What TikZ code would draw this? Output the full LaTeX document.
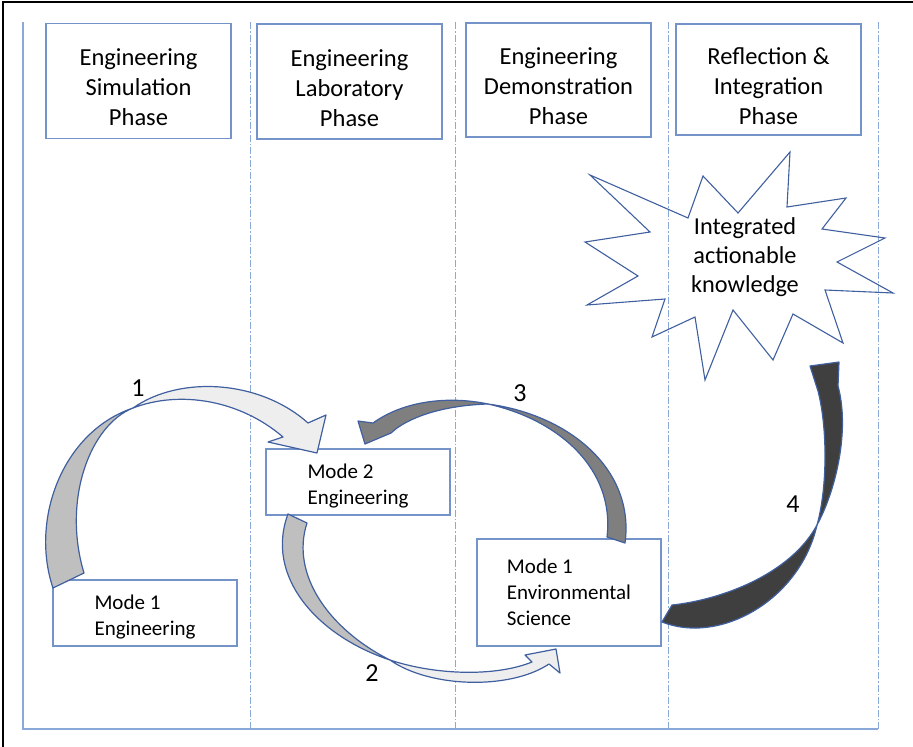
\documentclass[tikz,border=0pt]{standalone}
\usepackage{fontspec}
\setmainfont{Carlito}
\usetikzlibrary{positioning}
\definecolor{boxblue}{HTML}{7393C9}
\definecolor{laneblue}{HTML}{8AA8D8}
\definecolor{curlblue}{HTML}{3F5F9F}
\definecolor{backgrey}{HTML}{BFBFBF}
\definecolor{frontgrey}{HTML}{EEEEEE}
\definecolor{midgrey}{HTML}{7F7F7F}
\definecolor{darkgrey}{HTML}{3F3F3F}
\newcommand{\phasegap}{\rule{0pt}{30pt}}
\newcommand{\modegap}{\rule{0pt}{22pt}}
\tikzset{
  phasebox/.style={draw=boxblue,line width=1.3pt,minimum width=185pt,minimum height=115pt,align=center,
    font=\fontsize{24.5}{30}\selectfont},
  modebox/.style={draw=boxblue,line width=1.1pt,fill=white,minimum width=184pt,align=left,
    font=\fontsize{21}{26}\selectfont},
  lane/.style={laneblue,line width=1pt,dash pattern=on 7pt off 2pt on 1.5pt off 2pt},
  curl/.style={draw=curlblue,line width=1.2pt,line join=round},
  steplabel/.style={font=\fontsize{26}{30}\selectfont},
}

\begin{document}
\begin{tikzpicture}[x=1pt,y=-1pt]
  \useasboundingbox (0,0) rectangle (913,747);
  \draw [line width=1.5pt] (3,747) -- (3,2) -- (913,2);
  \draw [laneblue,line width=1.2pt] (23,22) -- (23,729) -- (878,729);
  \foreach \x in {250,455,668,878}
    \draw [lane] (\x,22) -- (\x,729);
  \node [phasebox] (sim) at (138.5,81) {\phasegap Engineering\\Simulation\\Phase};
  \node [phasebox] (lab) at (349.5,81.5) {\phasegap Engineering\\Laboratory\\Phase};
  \node [phasebox,minimum height=114pt] (demo) at (558.5,80) {\phasegap Engineering\\Demonstration\\Phase};
  \node [phasebox,minimum height=111pt] (refl) at (768.5,79.5) {\phasegap Reflection \&\\Integration\\Phase};
  \node [modebox,minimum height=66pt] (modeeng) at (145,613) {\modegap Mode 1\\Engineering};
  \node [modebox,minimum height=66pt] (modetwo) at (358,482) {\modegap Mode 2\\Engineering};
  \node [modebox,minimum height=107pt] (modeenv) at (569,592.5) {Mode 1\\Environmental\\Science};
  % burst
  \draw [curlblue,line width=1.1pt,line join=miter] (590,175) -- (688,218) -- (703,176) -- (738,213) -- (790,152) -- (787,207)
    -- (846,198) -- (822,229) -- (885,238) -- (837,262) -- (893,293) -- (825,290) -- (843,343) -- (793,314)
    -- (773,360) -- (733,310) -- (705,380) -- (695,317) -- (652,337) -- (665,299) -- (587,305) -- (638,276)
    -- (585,242) -- (650,232) -- cycle;
  \node [align=center,font=\fontsize{24.3}{29}\selectfont] (knowledge) at (745,257) {Integrated\\actionable\\knowledge};
  % curved arrows
  \draw [curl,fill=backgrey] (53,588) .. controls (30,520) and (62,432) .. (133,408)
    .. controls (90,425) and (62,500) .. (84,573) -- cycle;
  \draw [curl,fill=frontgrey] (133,408) .. controls (180,375) and (260,380) .. (308,423)
    -- (326,415) -- (317,453) -- (268,442) -- (283,437) .. controls (240,400) and (180,390) .. (133,408) -- cycle;
  \draw [curl,fill=backgrey] (288,514) .. controls (265,575) and (315,635) .. (390,660)
    .. controls (330,630) and (290,575) .. (307,523) -- cycle;
  \draw [curl,fill=frontgrey] (390,660) .. controls (430,688) and (510,690) .. (549,664)
    -- (560,673) -- (556,649) -- (525,655) -- (532,662) .. controls (495,677) and (435,675) .. (390,660) -- cycle;
  \draw [curl,fill=midgrey] (625,543) .. controls (635,470) and (570,415) .. (488,404)
    .. controls (560,420) and (615,470) .. (607,537) -- cycle;
  \draw [curl,fill=midgrey] (488,404) .. controls (450,396) and (405,400) .. (373,423)
    -- (358,421) -- (365,444) -- (391,433) -- (397,428) .. controls (420,412) and (455,405) .. (488,404) -- cycle;
  \draw [curl,fill=darkgrey] (662,622) .. controls (720,645) and (800,600) .. (817,525)
    .. controls (790,575) and (720,600) .. (672,605) -- cycle;
  \draw [curl,fill=darkgrey] (817,525) .. controls (836,490) and (850,430) .. (838,386)
    -- (839,362) -- (810,366) -- (818,391) .. controls (828,430) and (827,490) .. (817,525) -- cycle;
  % step numbers
  \node [steplabel] (one) at (138,388) {1};
  \node [steplabel] (two) at (372,673) {2};
  \node [steplabel] (three) at (520,393) {3};
  \node [steplabel] (four) at (793,504) {4};
\end{tikzpicture}
\end{document}
